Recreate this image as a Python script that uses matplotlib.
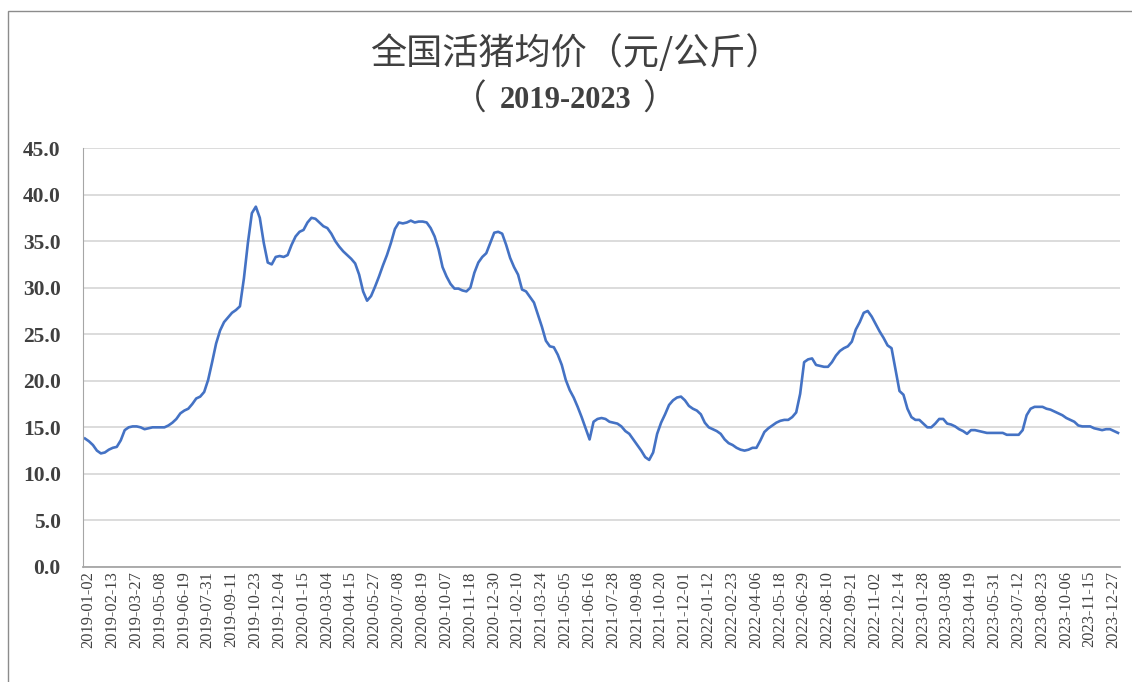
import matplotlib
matplotlib.use("Agg")
import matplotlib.pyplot as plt
import matplotlib.transforms as mtransforms
from matplotlib.patches import Rectangle
import numpy as np

# ── DATA (weekly national live hog price, yuan/kg) ─────────────────
tick_labels = [
    "2019-01-02", "2019-02-13", "2019-03-27", "2019-05-08", "2019-06-19", "2019-07-31",
    "2019-09-11", "2019-10-23", "2019-12-04", "2020-01-15", "2020-03-04", "2020-04-15",
    "2020-05-27", "2020-07-08", "2020-08-19", "2020-10-07", "2020-11-18", "2020-12-30",
    "2021-02-10", "2021-03-24", "2021-05-05", "2021-06-16", "2021-07-28", "2021-09-08",
    "2021-10-20", "2021-12-01", "2022-01-12", "2022-02-23", "2022-04-06", "2022-05-18",
    "2022-06-29", "2022-08-10", "2022-09-21", "2022-11-02", "2022-12-14", "2023-01-28",
    "2023-03-08", "2023-04-19", "2023-05-31", "2023-07-12", "2023-08-23", "2023-10-06",
    "2023-11-15", "2023-12-27",
]
price_2019 = [
    13.8, 13.5, 13.1, 12.5, 12.2, 12.3, 12.6, 12.8, 12.9, 13.6, 14.7, 15.0, 15.1, 15.1,
    15.0, 14.8, 14.9, 15.0, 15.0, 15.0, 15.0, 15.2, 15.5, 15.9, 16.5, 16.8, 17.0, 17.5,
    18.1, 18.3, 18.8, 20.1, 22.0, 24.0, 25.4, 26.3, 26.8, 27.3, 27.6, 28.0, 31.0, 34.8,
    38.0, 38.7, 37.5, 34.8, 32.7, 32.5, 33.3, 33.4, 33.3, 33.5, 34.6, 35.5,
]
price_2020 = [
    36.0, 36.2, 37.0, 37.5, 37.4, 37.0, 36.6, 36.4, 35.8, 35.0, 34.4, 33.9, 33.5, 33.1,
    32.6, 31.4, 29.6, 28.6, 29.1, 30.1, 31.2, 32.4, 33.5, 34.8, 36.3, 37.0, 36.9, 37.0,
    37.2, 37.0, 37.1, 37.1, 37.0, 36.4, 35.5, 34.1, 32.2, 31.2, 30.4, 29.9, 29.9, 29.7,
    29.6, 30.0, 31.6, 32.7, 33.3, 33.7, 34.8, 35.9, 36.0, 35.8, 34.6, 33.2,
]
price_2021 = [
    32.2, 31.4, 29.8, 29.6, 29.0, 28.4, 27.1, 25.8, 24.3, 23.7, 23.6, 22.8, 21.7, 20.1,
    19.0, 18.2, 17.2, 16.1, 14.9, 13.7, 15.6, 15.9, 16.0, 15.9, 15.6, 15.5, 15.4, 15.1,
    14.6, 14.3, 13.7, 13.1, 12.5, 11.8, 11.5, 12.3, 14.3, 15.5, 16.4, 17.4, 17.9, 18.2,
    18.3, 17.9, 17.3, 17.0, 16.8, 16.4,
]
price_2022 = [
    15.5, 15.0, 14.8, 14.6, 14.3, 13.7, 13.3, 13.1, 12.8, 12.6, 12.5, 12.6, 12.8, 12.8,
    13.6, 14.5, 14.9, 15.2, 15.5, 15.7, 15.8, 15.8, 16.1, 16.6, 18.6, 22.0, 22.3, 22.4,
    21.7, 21.6, 21.5, 21.5, 22.0, 22.7, 23.2, 23.5, 23.7, 24.2, 25.5, 26.3, 27.3, 27.5,
    26.9, 26.1, 25.3, 24.6, 23.8, 23.5, 21.2, 18.9, 18.5, 17.0, 16.1, 15.8,
]
price_2023 = [
    15.8, 15.4, 15.0, 15.0, 15.4, 15.9, 15.9, 15.4, 15.3, 15.1, 14.8, 14.6, 14.3, 14.7,
    14.7, 14.6, 14.5, 14.4, 14.4, 14.4, 14.4, 14.4, 14.2, 14.2, 14.2, 14.2, 14.7, 16.3,
    17.0, 17.2, 17.2, 17.2, 17.0, 16.9, 16.7, 16.5, 16.3, 16.0, 15.8, 15.6, 15.2, 15.1,
    15.1, 15.1, 14.9, 14.8, 14.7, 14.8, 14.8, 14.6, 14.4,
]
prices = price_2019 + price_2020 + price_2021 + price_2022 + price_2023
title_cn = "全国活猪均价（元/公斤）"
title_years = "2019-2023"

# ── FIGURE ─────────────────────────────────────────────────────────
fig = plt.figure(figsize=(11.32, 6.82), dpi=100)
fig.patches.append(Rectangle((8/1132, -0.02), 1.1, 1 - 11/682 + 0.02, transform=fig.transFigure,
                             fill=False, edgecolor="#8c8c8c", lw=1.0))
ax = fig.add_axes([83/1132, 1 - 567/682, (1120-83)/1132, (567-148)/682])

x = np.arange(len(prices))
ax.plot(x, prices, color="#4472C4", lw=1.9, solid_joinstyle="round")

ax.set_xlim(-0.5, len(prices) - 0.5)
ax.set_ylim(0, 45)
ax.set_yticks(np.arange(0, 46, 5))
ax.set_yticklabels([f"{v:.1f}" for v in np.arange(0, 46, 5)],
                   fontfamily="Liberation Serif", fontweight="bold", fontsize=15.5, color="#404040")
ax.set_xticks(np.arange(0, 6*len(tick_labels), 6))
ax.set_xticklabels(tick_labels, rotation=90, fontfamily="Liberation Serif",
                   fontsize=11.8, color="#404040")
ax.tick_params(axis="x", length=0, pad=3)
ax.tick_params(axis="y", length=0, pad=16)
# nudge the rotated date labels a few px right, as in the original
shift = mtransforms.ScaledTranslation(3.5/100, 0, fig.dpi_scale_trans)
for lab in ax.get_xticklabels():
    lab.set_transform(lab.get_transform() + shift)
ax.grid(axis="y", color="#d9d9d9", lw=1.3)
ax.set_axisbelow(True)
for s in ["top", "right"]:
    ax.spines[s].set_visible(False)
ax.spines["left"].set_color("#a6a6a6")
ax.spines["bottom"].set_color("#a6a6a6")
ax.spines["bottom"].set_linewidth(1.3)

fig.text(576/1132, 1 - 53/682, title_cn, ha="center", va="center", fontsize=26,
         family=["Noto Sans CJK SC", "DejaVu Sans"], color="#404040")
ty = 1 - 100/682
fig.text(566/1132, ty, title_years, ha="center", va="center", fontsize=22,
         family="Liberation Serif", fontweight="bold", color="#404040")
fig.text(469/1132, ty, "（", ha="center", va="center", fontsize=25,
         family="Noto Sans CJK SC", color="#404040")
fig.text(660/1132, ty, "）", ha="center", va="center", fontsize=25,
         family="Noto Sans CJK SC", color="#404040")

fig.savefig("out.png", dpi=100)
